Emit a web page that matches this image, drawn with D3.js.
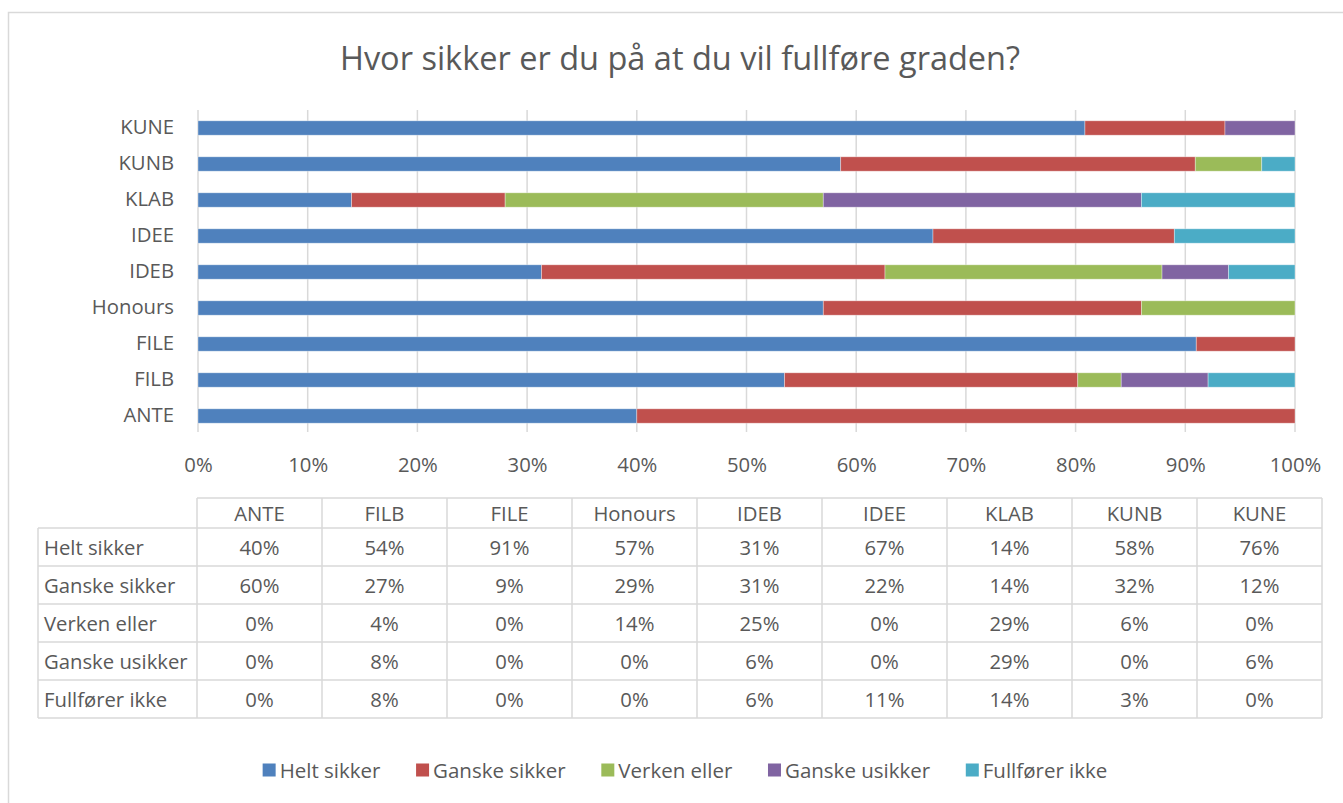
<!DOCTYPE html>
<html>
<head>
<meta charset="utf-8">
<script src="https://cdn.jsdelivr.net/npm/d3@7"></script>
<style>
  html, body { margin: 0; padding: 0; background: #fff; }
  svg { display: block; }
  text { font-family: "Open Sans", "Noto Sans", sans-serif; fill: #595959; }
</style>
</head>
<body>
<svg id="chart" width="1343" height="803"></svg>
<script>
const title = "Hvor sikker er du på at du vil fullføre graden?";
const categories = ["ANTE", "FILB", "FILE", "Honours", "IDEB", "IDEE", "KLAB", "KUNB", "KUNE"];
const seriesNames = ["Helt sikker", "Ganske sikker", "Verken eller", "Ganske usikker", "Fullfører ikke"];
const heltSikker    = [40, 54, 91, 57, 31, 67, 14, 58, 76];
const ganskeSikker  = [60, 27,  9, 29, 31, 22, 14, 32, 12];
const verkenEller   = [ 0,  4,  0, 14, 25,  0, 29,  6,  0];
const ganskeUsikker = [ 0,  8,  0,  0,  6,  0, 29,  0,  6];
const fullforerIkke = [ 0,  8,  0,  0,  6, 11, 14,  3,  0];
const xTicks = [0, 0.1, 0.2, 0.3, 0.4, 0.5, 0.6, 0.7, 0.8, 0.9, 1.0];
const colors = ["#4F81BD", "#C0504D", "#9BBB59", "#8064A2", "#4BACC6"];

const seriesValues = [heltSikker, ganskeSikker, verkenEller, ganskeUsikker, fullforerIkke];
const rows = categories.map((c, i) => {
  const r = { cat: c };
  seriesNames.forEach((s, j) => r[s] = seriesValues[j][i]);
  return r;
});

const svg = d3.select("#chart");
const gridColor = "#D9D9D9";
const fs = "20.3px";

// chart border
svg.append("rect")
  .attr("x", 8.5).attr("y", 12.5)
  .attr("width", 1400).attr("height", 820)
  .attr("fill", "none").attr("stroke", gridColor).attr("stroke-width", 1.5);

// title
svg.append("text")
  .attr("x", 680).attr("y", 57)
  .attr("text-anchor", "middle").attr("dominant-baseline", "central")
  .style("font-size", "32.5px")
  .text(title);

// scales
const x = d3.scaleLinear().domain([0, 1]).range([198, 1295]);
const y = d3.scaleBand().domain(categories.slice().reverse()).range([110, 434]).paddingInner(0.6).paddingOuter(0.3);

// gridlines
svg.append("g").selectAll("line").data(xTicks).join("line")
  .attr("x1", d => x(d)).attr("x2", d => x(d))
  .attr("y1", 110).attr("y2", 432)
  .attr("stroke", gridColor).attr("stroke-width", 1.5);

// stacked bars
const stack = d3.stack().keys(seriesNames).offset(d3.stackOffsetExpand);
const stacked = stack(rows);
svg.append("g").selectAll("g").data(stacked).join("g")
  .attr("fill", (d, i) => colors[i])
  .selectAll("rect").data(d => d.filter(p => p[1] - p[0] > 0)).join("rect")
  .attr("x", d => x(d[0]))
  .attr("width", d => x(d[1]) - x(d[0]))
  .attr("y", d => y(d.data.cat))
  .attr("height", y.bandwidth())
  .attr("stroke", "#ffffff").attr("stroke-opacity", 0.45).attr("stroke-width", 0.8);

// y axis labels
const yAxis = d3.axisLeft(y).tickSize(0).tickPadding(0);
const yg = svg.append("g").attr("transform", "translate(174,-1)").call(yAxis);
yg.select(".domain").remove();
yg.selectAll("text").style("font-size", fs).attr("fill", "#595959");

// x axis labels
const xAxis = d3.axisBottom(x).tickValues(xTicks).tickFormat(d3.format(".0%")).tickSize(0).tickPadding(0);
const xg = svg.append("g").attr("transform", "translate(0,458)").call(xAxis);
xg.select(".domain").remove();
xg.selectAll("text").style("font-size", fs).attr("fill", "#595959");

// data table
const tLeft = 38, labelW = 159, colW = 125;
const headTop = 498, headH = 30, rowH = 38;
const tRight = tLeft + labelW + colW * categories.length;
const tBottom = headTop + headH + rowH * seriesNames.length;
const tg = svg.append("g");
function line(x1, y1, x2, y2) {
  tg.append("line").attr("x1", x1).attr("y1", y1).attr("x2", x2).attr("y2", y2)
    .attr("stroke", gridColor).attr("stroke-width", 1.5);
}
line(tLeft + labelW, headTop, tRight, headTop);
for (let i = 0; i <= seriesNames.length; i++) {
  const yy = headTop + headH + i * rowH;
  line(tLeft, yy, tRight, yy);
}
line(tLeft, headTop + headH, tLeft, tBottom);
for (let j = 0; j <= categories.length; j++) {
  const xx = tLeft + labelW + j * colW;
  line(xx, headTop, xx, tBottom);
}
tg.selectAll("text.head").data(categories).join("text")
  .attr("class", "head")
  .attr("x", (d, j) => tLeft + labelW + j * colW + colW / 2)
  .attr("y", headTop + headH / 2)
  .attr("text-anchor", "middle").attr("dominant-baseline", "central")
  .style("font-size", fs)
  .text(d => d);
const fmt = d => d + "%";
seriesNames.forEach((s, i) => {
  const cy = headTop + headH + i * rowH + rowH / 2;
  tg.append("text")
    .attr("x", tLeft + 6).attr("y", cy)
    .attr("dominant-baseline", "central")
    .style("font-size", fs)
    .text(s);
  tg.selectAll("text.v" + i).data(seriesValues[i]).join("text")
    .attr("class", "v" + i)
    .attr("x", (d, j) => tLeft + labelW + j * colW + colW / 2)
    .attr("y", cy)
    .attr("text-anchor", "middle").attr("dominant-baseline", "central")
    .style("font-size", fs)
    .text(fmt);
});

// legend
const lg = svg.append("g");
const items = lg.selectAll("g").data(seriesNames).join("g");
items.append("rect").attr("width", 13).attr("height", 13).attr("y", -6.5).attr("fill", (d, i) => colors[i]);
items.append("text").attr("x", 17).attr("dominant-baseline", "central")
  .style("font-size", "20.5px").text(d => d);
const gap = 35;
const widths = items.nodes().map(n => n.getBBox().width);
const total = d3.sum(widths) + gap * (widths.length - 1);
const startX = 685 - total / 2;
items.attr("transform", (d, i) => {
  const tx = startX + d3.sum(widths.slice(0, i)) + gap * i;
  return `translate(${tx},770)`;
});
</script>
</body>
</html>
